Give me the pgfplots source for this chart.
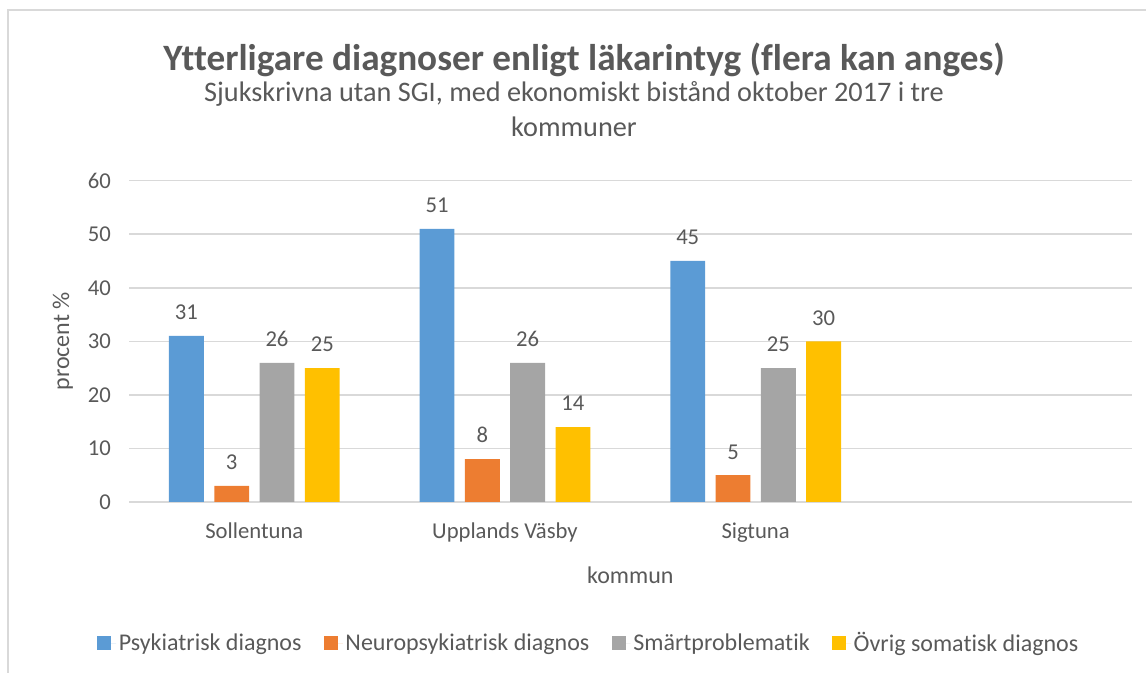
\documentclass[border=0pt]{standalone}
\usepackage{pgfplots}
\pgfplotsset{compat=1.18}
\usepackage{fontspec}
\setmainfont{Carlito}[Ligatures=NoCommon]
\definecolor{cBlue}{HTML}{5B9BD5}
\definecolor{cOrange}{HTML}{ED7D31}
\definecolor{cGray}{HTML}{A5A5A5}
\definecolor{cYellow}{HTML}{FFC000}
\definecolor{txt}{HTML}{595959}
\definecolor{gridc}{HTML}{D9D9D9}
\begin{document}
\begin{tikzpicture}[x=0.75pt,y=0.75pt]
% frame of the chart area (y measured from the bottom: 673 - pixel row)
\draw[gridc,line width=1.6pt] (8,-30) -- (8,663) -- (1160,663);
% titles
\node[anchor=base,text=txt,font=\fontsize{27.9}{32}\selectfont\bfseries] at (584,602) {Ytterligare diagnoser enligt läkarintyg (flera kan anges)};
\node[anchor=base,text=txt,font=\fontsize{21.2}{25}\selectfont] at (574,571) {Sjukskrivna utan SGI, med ekonomiskt bistånd oktober 2017 i tre};
\node[anchor=base,text=txt,font=\fontsize{21.2}{25}\selectfont] at (574,536) {kommuner};
\coordinate (plotSW) at (129,171);
\begin{axis}[
  at={(plotSW)}, anchor=south west,
  scale only axis, width=752pt, height=241pt,
  ybar, bar width=0.139,
  xmin=-0.5, xmax=3.5, ymin=0, ymax=60,
  xtick={0,1,2}, xticklabels={Sollentuna,Upplands Väsby,Sigtuna},
  ytick={0,10,...,60},
  axis line style={draw=none}, major tick length=0pt,
  ymajorgrids, grid style={gridc,line width=1.2pt},
  ticklabel style={text=txt,font=\fontsize{17}{20}\selectfont},
  /pgf/number format/assume math mode=true,
  xticklabel style={yshift=-12pt},
  yticklabel style={xshift=-10pt},
  xlabel={kommun}, ylabel={procent \%},
  every axis x label/.style={at={(rel axis cs:0.5,-0.227)},anchor=center,
    text=txt,font=\fontsize{18}{21}\selectfont},
  every axis y label/.style={at={(rel axis cs:-0.066,0.5)},rotate=90,anchor=center,
    text=txt,font=\fontsize{18}{21}\selectfont},
  nodes near coords,
  nodes near coords style={text=txt,font=\fontsize{17}{20}\selectfont,yshift=8.5pt},
  legend columns=4,
  legend style={at={(rel axis cs:0.459,-0.439)},anchor=center,draw=none,fill=none,
    text=txt,font=\fontsize{18}{21}\selectfont,
    /tikz/every even column/.append style={column sep=15pt}},
  legend image code/.code={\fill[#1] (0pt,-5pt) rectangle (10.5pt,5.5pt);
    \path (0pt,0pt) -- (14pt,0pt);},
]
\addplot[fill=cBlue,draw=none,bar shift=-0.271] coordinates {(0,31) (1,51) (2,45)};
\addlegendentry{Psykiatrisk diagnos}
\addplot[fill=cOrange,draw=none,bar shift=-0.0904] coordinates {(0,3) (1,8) (2,5)};
\addlegendentry{Neuropsykiatrisk diagnos}
\addplot[fill=cGray,draw=none,bar shift=0.0904] coordinates {(0,26) (1,26) (2,25)};
\addlegendentry{Smärtproblematik}
\addplot[fill=cYellow,draw=none,bar shift=0.271] coordinates {(0,25) (1,14) (2,30)};
\addlegendentry{Övrig somatisk diagnos}
\end{axis}
\pgfresetboundingbox
\path[use as bounding box] (0,0) rectangle (1146,673);
\end{tikzpicture}
\end{document}
